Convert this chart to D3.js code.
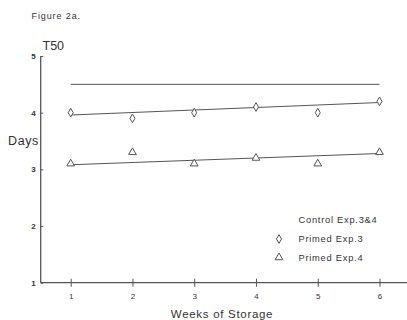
<!DOCTYPE html>
<html><head><meta charset="utf-8">
<script src="https://cdn.jsdelivr.net/npm/d3@7"></script>
<style>body{margin:0;background:#fff}svg{display:block}text{font-family:"Liberation Sans",Arial,sans-serif;fill:#333}</style>
</head><body>
<script>
const weeks = [1, 2, 3, 4, 5, 6];
const control = 4.5;
const primed3 = [4.0, 3.9, 4.0, 4.1, 4.0, 4.2];
const primed4 = [3.1, 3.3, 3.1, 3.2, 3.1, 3.3];
const fit3 = [3.96, 4.18];
const fit4 = [3.08, 3.28];
const yTicks = [1, 2, 3, 4, 5];
const legendLabels = ["Control Exp.3&4", "Primed Exp.3", "Primed Exp.4"];

const W = 407, H = 320;
const svg = d3.select("body").append("svg").attr("width", W).attr("height", H);
const x = d3.scaleLinear().domain([1, 6]).range([70.7, 379.5]);
const y = d3.scaleLinear().domain([1, 5]).range([282.7, 56]);
const ink = "#555";

// axes
svg.append("line").attr("x1", 40.7).attr("x2", 40.7).attr("y1", y(5)).attr("y2", y(1)).attr("stroke", ink).attr("stroke-width", 1.3);
svg.append("line").attr("x1", 40.7).attr("x2", 407).attr("y1", y(1)).attr("y2", y(1)).attr("stroke", ink).attr("stroke-width", 1.3);

const yAxis = d3.axisLeft(y).tickValues(yTicks).tickSize(-2.5).tickPadding(5).tickFormat(d3.format("d"));
const gy = svg.append("g").attr("transform", "translate(40.7,0)").call(yAxis);
gy.select(".domain").remove();
gy.selectAll("line").attr("stroke", ink);
gy.selectAll("text").attr("font-size", 8).style("font-weight", "bold").attr("fill", "#444");

const xAxis = d3.axisBottom(x).tickValues(weeks).tickSize(4).tickPadding(7).tickFormat(d3.format("d"));
const gx = svg.append("g").attr("transform", `translate(0,${y(1)})`).call(xAxis);
gx.select(".domain").remove();
gx.selectAll("line").attr("stroke", ink).attr("y1", -4);
gx.selectAll("text").attr("font-size", 8).attr("fill", "#444");

// control line
svg.append("line").attr("x1", x(1)).attr("x2", x(6)).attr("y1", y(control)).attr("y2", y(control)).attr("stroke", ink).attr("stroke-width", 1);
// fits
svg.append("line").attr("x1", x(1)).attr("x2", x(6)).attr("y1", y(fit3[0])).attr("y2", y(fit3[1])).attr("stroke", ink).attr("stroke-width", 1.1);
svg.append("line").attr("x1", x(1)).attr("x2", x(6)).attr("y1", y(fit4[0])).attr("y2", y(fit4[1])).attr("stroke", ink).attr("stroke-width", 1.1);

const diamond = d3.symbol().type(d3.symbolDiamond).size(22);
const tri = d3.symbol().type(d3.symbolTriangle).size(26);
svg.selectAll(".p3").data(weeks).enter().append("path")
  .attr("d", diamond).attr("transform", (d, i) => `translate(${x(d)},${y(primed3[i])})`)
  .attr("fill", "#fff").attr("stroke", ink).attr("stroke-width", 1);
svg.selectAll(".p4").data(weeks).enter().append("path")
  .attr("d", tri).attr("transform", (d, i) => `translate(${x(d)},${y(primed4[i])})`)
  .attr("fill", "#fff").attr("stroke", ink).attr("stroke-width", 1);

// legend
const ly = [220, 239, 257.5];
legendLabels.forEach((t, i) => {
  svg.append("text").attr("x", 298.5).attr("y", ly[i] + 3.3).attr("font-size", 9.3)
    .attr("letter-spacing", 0.75).text(t);
});
svg.append("path").attr("d", diamond).attr("transform", `translate(279,${ly[1]})`).attr("fill", "#fff").attr("stroke", ink);
svg.append("path").attr("d", tri).attr("transform", `translate(279,${ly[2]})`).attr("fill", "#fff").attr("stroke", ink);

// titles
svg.append("text").attr("x", 31.5).attr("y", 19).attr("font-size", 9).attr("letter-spacing", 0.9).text("Figure 2a.");
svg.append("text").attr("x", 42.5).attr("y", 50).attr("font-size", 12.5).text("T50");
svg.append("text").attr("x", 8).attr("y", 145).attr("font-size", 12.5).attr("letter-spacing", 0.6).text("Days");
svg.append("text").attr("x", 222).attr("y", 318).attr("text-anchor", "middle").attr("font-size", 11.5)
  .attr("letter-spacing", 0.7).text("Weeks of Storage");
</script>
</body></html>
